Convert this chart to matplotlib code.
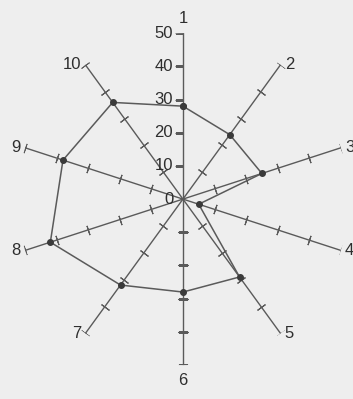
import numpy as np
import matplotlib
matplotlib.use("Agg")
import matplotlib.pyplot as plt

# axis labels 1..10, clockwise from the top
axis_labels = ["1", "2", "3", "4", "5", "6", "7", "8", "9", "10"]
values = [28, 24, 25, 5, 29, 28, 32, 42, 38, 36]
tick_values = [0, 10, 20, 30, 40, 50]

line_col = "#5a5a5a"
text_col = "#2e2e2e"
bg_col = "#eeeeee"

plt.rcParams["font.family"] = ["Liberation Sans", "DejaVu Sans"]

fig = plt.figure(figsize=(3.53, 3.99), dpi=100, facecolor=bg_col)
ax = fig.add_axes([0.048, 0.085, 0.9405, 0.832], projection="polar")
ax.set_facecolor(bg_col)
ax.set_theta_zero_location("N")
ax.set_theta_direction(-1)
ax.set_ylim(0, 50)
ax.grid(False)
ax.spines["polar"].set_visible(False)
ax.set_xticks([])
ax.set_yticks([])

n = len(axis_labels)
angles = np.arange(n) * 2 * np.pi / n
rmax = tick_values[-1]

# spokes with small cross ticks
for i, th in enumerate(angles):
    ax.plot([th, th], [0, rmax], color=line_col, lw=1.0)
    deg = np.degrees(th)
    if i == 0:
        ax.plot([th] * 5, tick_values[1:], ls="none", marker=0,
                ms=6, mew=0.8, color=line_col)
    else:
        ax.plot([th] * 5, tick_values[1:], ls="none",
                marker=(2, 2, 90 - deg), ms=7, mew=0.8, color=line_col)

    s = np.sin(th)
    if abs(s) < 0.1:
        dy = 5 if np.cos(th) > 0 else -6
        va = "bottom" if dy > 0 else "top"
        ax.annotate(axis_labels[i], (th, rmax), xytext=(0, dy),
                    textcoords="offset points", ha="center", va=va,
                    fontsize=12, color=text_col, annotation_clip=False)
    else:
        dx = 3 if s > 0 else -3
        ha = "left" if s > 0 else "right"
        ax.annotate(axis_labels[i], (th, rmax), xytext=(dx, 0),
                    textcoords="offset points", ha=ha, va="center",
                    fontsize=12, color=text_col, annotation_clip=False)

# scale labels along axis 1
for v in tick_values:
    ax.annotate(str(v), (0, v), xytext=(-7, 0), textcoords="offset points",
                ha="right", va="center", fontsize=12, color=text_col,
                annotation_clip=False)

# data polygon
th_closed = np.append(angles, angles[0])
v_closed = values + values[:1]
ax.plot(th_closed, v_closed, color=line_col, lw=1.1,
        marker="o", ms=4, mfc="#3a3a3a", mec="#3a3a3a")

fig.savefig("out.png", dpi=100, facecolor=bg_col)
